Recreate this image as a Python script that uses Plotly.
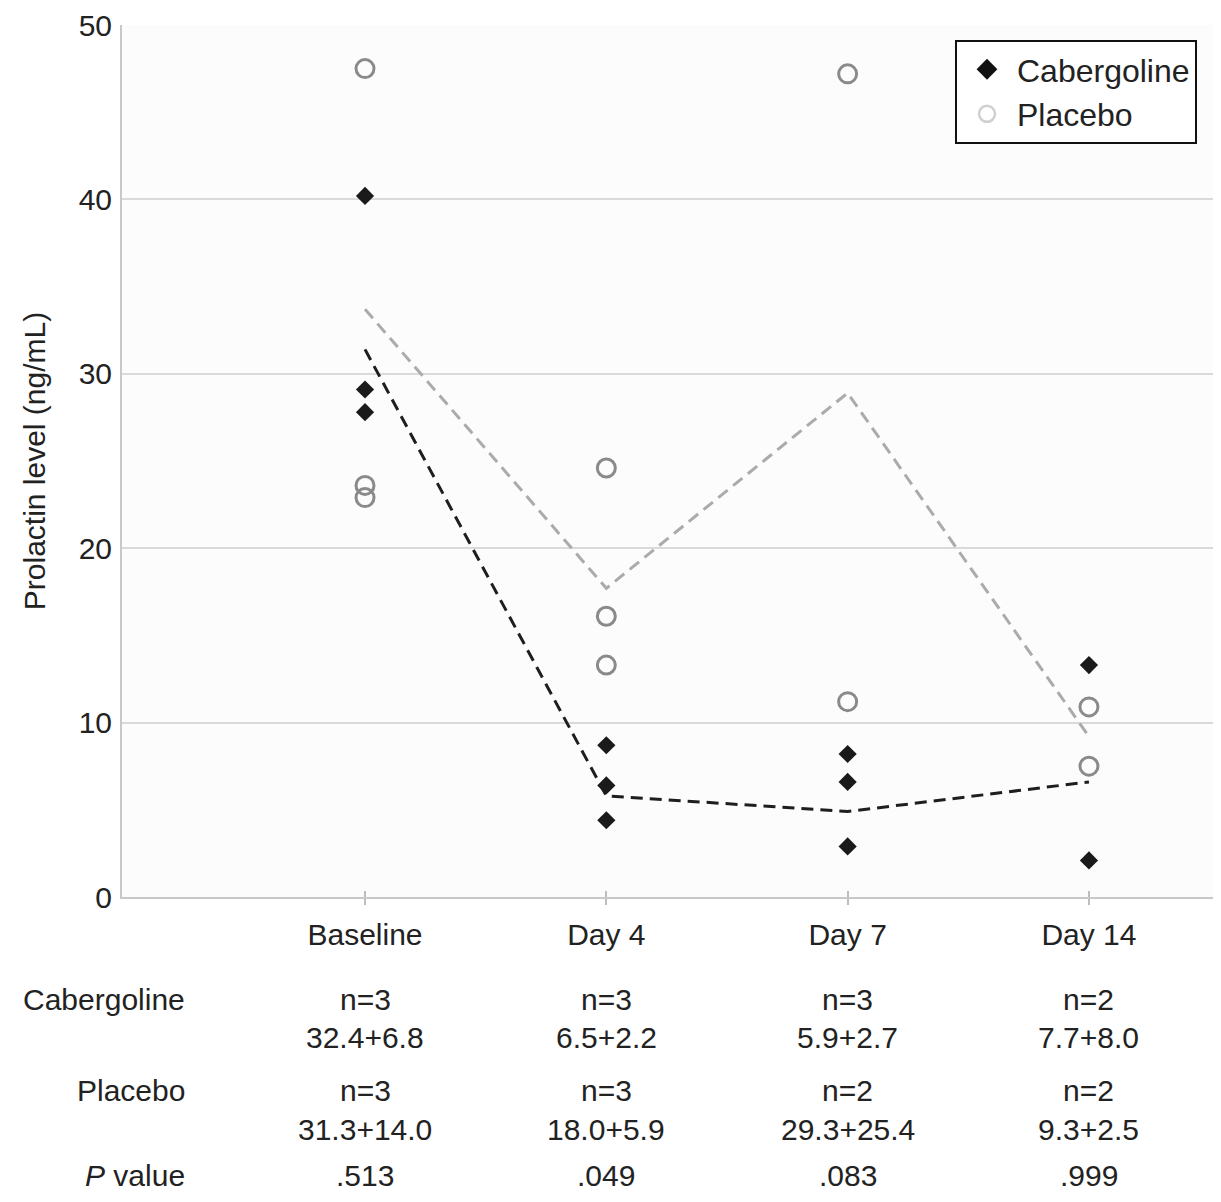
import plotly.graph_objects as go

categories = ["Baseline", "Day 4", "Day 7", "Day 14"]
cat_pos = [0, 1, 2, 3]

# individual values (ng/mL)
cab_x = [0, 0, 0, 1, 1, 1, 2, 2, 2, 3, 3]
cab_y = [40.2, 29.1, 27.8, 8.7, 6.4, 4.4, 8.2, 6.6, 2.9, 13.3, 2.1]
pla_x = [0, 0, 0, 1, 1, 1, 2, 2, 3, 3]
pla_y = [47.5, 23.6, 22.9, 24.6, 16.1, 13.3, 47.2, 11.2, 10.9, 7.5]

# mean lines as drawn
cab_mean = [31.4, 5.8, 4.9, 6.6]
pla_mean = [33.7, 17.7, 28.9, 9.2]

yticks = [0, 10, 20, 30, 40, 50]

cab_n = ["n=3", "n=3", "n=3", "n=2"]
cab_stat = ["32.4+6.8", "6.5+2.2", "5.9+2.7", "7.7+8.0"]
pla_n = ["n=3", "n=3", "n=2", "n=2"]
pla_stat = ["31.3+14.0", "18.0+5.9", "29.3+25.4", "9.3+2.5"]
p_values = [".513", ".049", ".083", ".999"]

FONT = "Liberation Sans, Arial, sans-serif"
FS = 30
TXT = "#222222"

# page body has an 8px margin; the figure is sized/offset to compensate
W, H = 1205, 1186
L, T = 114, 14
PLOT_BOTTOM_PAGE = 897
B = H - (PLOT_BOTTOM_PAGE - 8)
PW = W - L          # plot width in px
PH = 875            # plot height in px

fig = go.Figure()

fig.add_trace(go.Scatter(x=cat_pos, y=pla_mean, mode="lines", showlegend=False,
                         line=dict(color="#ababab", width=3, dash="12px,7px"), hoverinfo="skip"))
fig.add_trace(go.Scatter(x=cat_pos, y=cab_mean, mode="lines", showlegend=False,
                         line=dict(color="#1e1e1e", width=3, dash="12px,7px"), hoverinfo="skip"))
fig.add_trace(go.Scatter(x=pla_x, y=pla_y, mode="markers", showlegend=False,
                         marker=dict(symbol="circle-open", size=18, color="#8a8a8a",
                                     line=dict(width=3, color="#8a8a8a"))))
fig.add_trace(go.Scatter(x=cab_x, y=cab_y, mode="markers", showlegend=False,
                         marker=dict(symbol="diamond", size=14, color="#1a1a1a")))

# legend entries
fig.add_trace(go.Scatter(x=[None], y=[None], mode="markers", name="Cabergoline",
                         marker=dict(symbol="diamond", size=22, color="#111111")))
fig.add_trace(go.Scatter(x=[None], y=[None], mode="markers", name="Placebo",
                         marker=dict(symbol="circle-open", size=22, color="#d0d0d0",
                                     line=dict(width=2.5, color="#d0d0d0"))))

XR = [-1.007, 3.514]


def xpaper(page_x):
    return (page_x - 122) / PW


def ypaper(page_y):
    return (PLOT_BOTTOM_PAGE - page_y) / PH


fig.update_layout(
    width=W, height=H,
    margin=dict(l=L, r=0, t=T, b=B),
    paper_bgcolor="white",
    plot_bgcolor="#fcfcfc",
    font=dict(family=FONT, size=FS, color=TXT),
    showlegend=True,
    legend=dict(x=xpaper(955), y=ypaper(37), xanchor="left", yanchor="top",
                bgcolor="white", bordercolor="#111111", borderwidth=2,
                itemwidth=50, tracegroupgap=0,
                font=dict(family=FONT, size=32, color=TXT)),
    xaxis=dict(range=XR, tickvals=cat_pos, ticktext=categories, showgrid=False,
               zeroline=False, showline=True, linecolor="#c8c8c8", linewidth=2,
               ticks="outside", ticklen=6, tickwidth=1.5, tickcolor="#bdbdbd",
               ticklabelstandoff=4, tickfont=dict(size=FS, family=FONT, color=TXT)),
    xaxis2=dict(range=XR, overlaying="x", anchor="y", side="bottom", tickvals=cat_pos,
                showticklabels=False, showgrid=False, zeroline=False, showline=False,
                ticks="inside", ticklen=6, tickwidth=1.5, tickcolor="#bdbdbd"),
    yaxis=dict(range=[0, 50], tickvals=yticks, showgrid=True, gridcolor="#dadada", gridwidth=1.5,
               zeroline=False, showline=True, linecolor="#c8c8c8", linewidth=2,
               ticks="", ticklabelstandoff=2, ticklabeloverflow="allow",
               tickfont=dict(size=FS, family=FONT, color=TXT),
               title=dict(text="Prolactin level (ng/mL)", standoff=24,
                          font=dict(size=FS, family=FONT, color=TXT))),
)

# invisible trace on xaxis2 so it renders
fig.add_trace(go.Scatter(x=[None], y=[None], xaxis="x2", showlegend=False, hoverinfo="skip"))

rows = [
    (cab_n, 1000), (cab_stat, 1038),
    (pla_n, 1091), (pla_stat, 1130),
    (p_values, 1176),
]
for texts, ypx in rows:
    for xi, t in zip(cat_pos, texts):
        fig.add_annotation(x=xi, xref="x", y=ypaper(ypx), yref="paper", text=t,
                           showarrow=False, xanchor="center", yanchor="middle",
                           font=dict(size=FS, family=FONT, color=TXT))

row_labels = [("Cabergoline", 1000), ("Placebo", 1091), ("<i>P</i> value", 1176)]
for t, ypx in row_labels:
    fig.add_annotation(x=xpaper(187), xref="paper", y=ypaper(ypx), yref="paper", text=t,
                       showarrow=False, xanchor="right", yanchor="middle",
                       font=dict(size=FS, family=FONT, color=TXT))

fig.write_html("out.html")
